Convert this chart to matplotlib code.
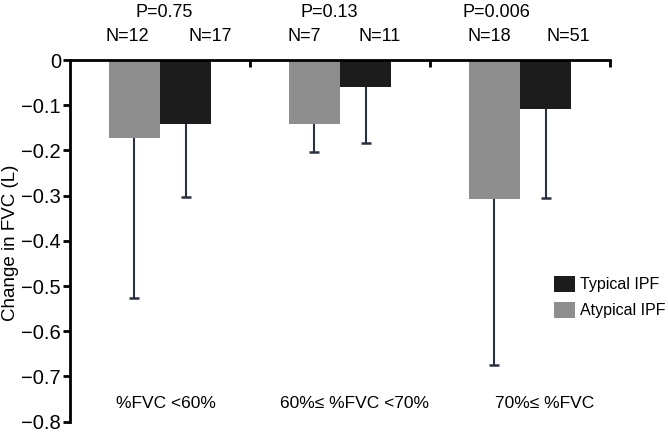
import numpy as np
import matplotlib
matplotlib.use("Agg")
import matplotlib.pyplot as plt

plt.rcParams['font.family'] = ['Liberation Sans', 'DejaVu Sans']

# data
groups = ['%FVC <60%', '60%\u2264 %FVC <70%', '70%\u2264 %FVC']
atypical = [-0.173, -0.142, -0.307]
atypical_err = [0.353, 0.062, 0.367]
typical = [-0.142, -0.060, -0.109]
typical_err = [0.160, 0.124, 0.197]
n_atyp = [12, 7, 18]
n_typ = [17, 11, 51]
p_vals = ['P=0.75', 'P=0.13', 'P=0.006']

# label positions (x in group units)
grp_lbl_x = [0.53, 1.58, 2.64]
n_atyp_x = [0.32, 1.30, 2.33]
n_typ_x = [0.78, 1.72, 2.77]
p_x = [0.52, 1.44, 2.37]

fig = plt.figure(figsize=(6.68, 4.32), dpi=100)
ax = fig.add_axes([0.105, 0.024, 0.808, 0.837])

x = np.arange(len(groups)) + 0.5
w = 0.285
ecol = '#2b3040'

ax.bar(x - w / 2, atypical, w, color='#8e8e8e', label='Atypical IPF', zorder=2)
ax.bar(x + w / 2, typical, w, color='#1c1c1c', label='Typical IPF', zorder=2)

for xs, v, e in [(x - w / 2, atypical, atypical_err), (x + w / 2, typical, typical_err)]:
    v = np.array(v)
    e = np.array(e)
    ax.errorbar(xs, v, yerr=[e, np.zeros(3)], fmt='none', ecolor=ecol,
                elinewidth=1.5, capsize=0, zorder=3)
    ax.plot(xs, v - e, ls='none', marker='_', ms=7, mew=1.8, color=ecol, zorder=3)

ax.set_xlim(0, 3)
ax.set_ylim(-0.8, 0)
yt = np.arange(-0.8, 0.01, 0.1)
ax.set_yticks(yt)
ax.set_yticklabels(['0' if abs(v) < 1e-9 else '\u2212%.1f' % -v for v in yt])

for s in ['right', 'bottom']:
    ax.spines[s].set_visible(False)
ax.spines['left'].set_linewidth(2)
ax.spines['top'].set_linewidth(2)
ax.tick_params(axis='y', direction='out', length=5, width=2, labelsize=14.5, pad=1.5)
ax.xaxis.set_ticks_position('top')
ax.set_xticks([1, 2, 3])
ax.set_xticklabels([])
ax.tick_params(axis='x', direction='in', length=5, width=2)

ax.set_ylabel('Change in FVC (L)', fontsize=13.5)
ax.yaxis.label.set(rotation_mode='default', va='center', ha='center')
ax.yaxis.set_label_coords(-0.111, 0.495)

for i in range(3):
    ax.text(grp_lbl_x[i], -0.759, groups[i], ha='center', va='center', fontsize=12.5)
    ax.text(n_atyp_x[i], 0.051, 'N=%d' % n_atyp[i], ha='center', va='center', fontsize=13)
    ax.text(n_typ_x[i], 0.051, 'N=%d' % n_typ[i], ha='center', va='center', fontsize=13)
    ax.text(p_x[i], 0.106, p_vals[i], ha='center', va='center', fontsize=13)

h, l = ax.get_legend_handles_labels()
ax.legend(h[::-1], l[::-1], loc='center left', bbox_to_anchor=(0.87, 0.345),
          frameon=False, fontsize=11.5, handlelength=1.3, handleheight=1.2,
          handletextpad=0.35, labelspacing=0.6)

fig.savefig('out.png', dpi=100)
